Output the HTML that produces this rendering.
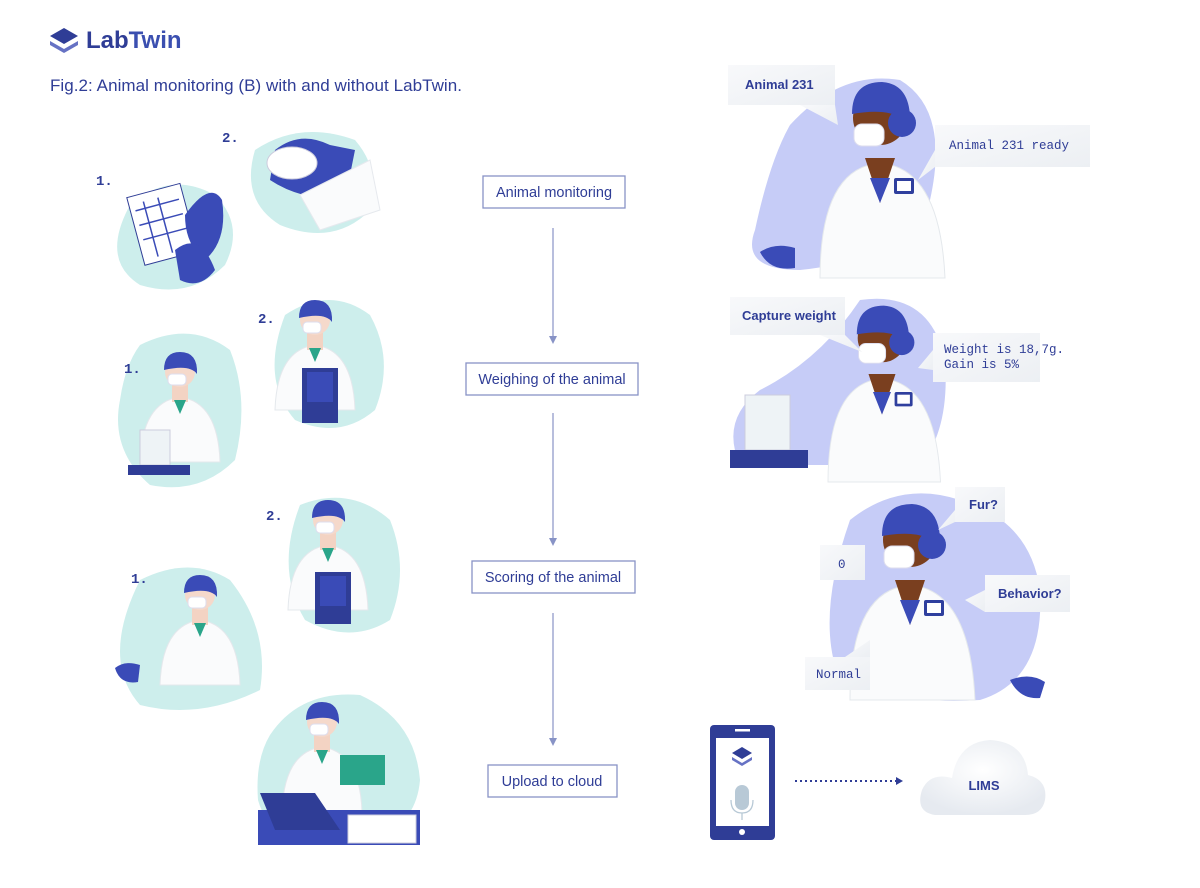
<!DOCTYPE html>
<html><head><meta charset="utf-8"><style>
body{margin:0;width:1200px;height:888px;background:#fff;overflow:hidden;font-family:"Liberation Sans",sans-serif}
svg{position:absolute;left:0;top:0}
</style></head><body>
<svg width="1200" height="888" viewBox="0 0 1200 888" xmlns="http://www.w3.org/2000/svg">
<defs>
<linearGradient id="bub" x1="0" y1="0" x2="1" y2="1"><stop offset="0" stop-color="#f8f9fb"/><stop offset="1" stop-color="#eceff3"/></linearGradient>
<radialGradient id="cl" cx="0.5" cy="0.4" r="0.6"><stop offset="0" stop-color="#ffffff"/><stop offset="1" stop-color="#e6eaf0"/></radialGradient>
<g id="pl">
<path d="M-40 90 Q-38 30 0 25 Q38 30 40 90 Z" fill="#fafbfc" stroke="#e4e8ec"/>
<rect x="-8" y="10" width="16" height="20" fill="#f3d3c3"/>
<path d="M-6 28 L0 42 L6 28Z" fill="#2aa58a"/>
<circle cx="0" cy="0" r="15" fill="#f5d9cb"/>
<path d="M-16 -2 Q-16 -20 0 -20 Q18 -20 17 2 Q10 -8 -16 -2Z" fill="#3a4bb7"/>
<rect x="-12" y="2" width="18" height="11" rx="4" fill="#fff" stroke="#dde"/>
</g>
<g id="pd">
<path d="M-60 160 Q-60 50 0 45 Q60 50 65 160 Z" fill="#fafbfc" stroke="#e4e8ec"/>
<path d="M-15 40 L0 85 L15 40Z" fill="#7a3f1f"/>
<path d="M-10 60 L0 85 L10 60Z" fill="#3a4bb7"/>
<circle cx="0" cy="0" r="27" fill="#7a3f1f"/>
<path d="M-28 -4 Q-28 -36 2 -36 Q32 -34 30 8 Q16 -12 -28 -4Z" fill="#3a4bb7"/>
<circle cx="22" cy="5" r="14" fill="#3a4bb7"/>
<rect x="-26" y="6" width="30" height="22" rx="8" fill="#fff" stroke="#dde"/>
<rect x="14" y="60" width="20" height="16" rx="2" fill="#2f3f9e"/><rect x="17" y="63" width="14" height="10" fill="#fff"/>
</g>
</defs>

<!-- header -->
<g transform="translate(50,28)">
<path d="M14 0 L28 8 L14 16 L0 8Z" fill="#2f3d96"/>
<path d="M0 13 L14 21 L28 13 L28 17 L14 25 L0 17Z" fill="#6672c4"/>
</g>
<text x="86" y="48" font-size="24" font-weight="bold" fill="#2f3d96">Lab<tspan fill="#3b4fb0">Twin</tspan></text>
<text x="50" y="91" font-size="17" fill="#2f3d96" textLength="412">Fig.2: Animal monitoring (B) with and without LabTwin.</text>

<!-- left blobs -->
<g fill="#cdeeec">
<path d="M130 205 Q170 170 215 195 Q245 225 225 265 Q190 300 140 285 Q100 260 130 205Z"/>
<path d="M255 150 Q300 120 355 140 Q385 175 365 215 Q330 245 280 225 Q240 200 255 150Z"/>
<path d="M140 345 Q190 320 230 350 Q250 400 235 460 Q200 495 150 485 Q110 450 120 400 Q125 365 140 345Z"/>
<path d="M285 315 Q330 285 370 315 Q395 360 375 410 Q340 440 295 420 Q260 380 285 315Z"/>
<path d="M140 580 Q190 555 230 580 Q270 630 260 690 Q200 720 140 705 Q100 660 140 580Z"/>
<path d="M300 505 Q350 485 390 520 Q410 570 390 620 Q350 645 305 620 Q275 570 300 505Z"/>
<path d="M270 735 Q300 690 360 695 Q415 720 420 780 Q415 840 340 845 Q270 845 258 800 Q255 760 270 735Z"/>
</g>
<g fill="#c6ccf7">
<path d="M790 125 Q840 70 900 80 Q950 110 930 200 Q900 260 800 270 Q740 270 755 230 Q770 160 790 125Z"/>
<path d="M860 300 Q930 290 945 360 Q950 430 920 465 L740 465 Q720 420 760 390 Q820 360 860 300Z"/>
<path d="M850 520 Q900 480 960 500 Q1030 520 1040 590 Q1045 680 980 700 Q900 705 840 680 Q815 620 850 520Z"/>
</g>

<!-- left illustrations -->
<g transform="rotate(-15 160 225)"><rect x="135" y="190" width="55" height="70" fill="#fff" stroke="#2f3d96"/>
<g stroke="#3a4bb7" stroke-width="1.5"><line x1="140" y1="205" x2="185" y2="205"/><line x1="140" y1="220" x2="185" y2="220"/><line x1="140" y1="235" x2="185" y2="235"/><line x1="150" y1="198" x2="150" y2="255"/><line x1="165" y1="198" x2="165" y2="255"/></g></g>
<path d="M185 215 Q210 180 222 200 Q228 240 205 260 Q185 245 185 215Z" fill="#3a4bb7"/>
<path d="M175 250 Q200 230 215 270 Q200 290 180 280Z" fill="#3a4bb7"/>
<path d="M275 150 Q300 130 330 145 L355 150 L345 200 Q300 200 270 180Z" fill="#3a4bb7"/>
<ellipse cx="292" cy="163" rx="25" ry="16" fill="#fff" stroke="#ccd"/>
<path d="M300 195 L370 160 L380 210 L320 230Z" fill="#fafbfc" stroke="#e6e9ee"/>

<use href="#pl" transform="translate(180,372)"/>
<rect x="140" y="430" width="30" height="35" fill="#eef3f6" stroke="#ccd"/>
<rect x="128" y="465" width="62" height="10" fill="#2f3d96"/>
<use href="#pl" transform="translate(315,320)"/>
<rect x="302" y="368" width="36" height="55" fill="#2f3d96"/><rect x="307" y="372" width="26" height="30" fill="#3a4bb7"/>
<use href="#pl" transform="translate(200,595)"/>
<path d="M115 668 Q125 660 140 665 L138 682 Q120 685 115 668Z" fill="#3a4bb7"/>
<use href="#pl" transform="translate(328,520)"/>
<rect x="315" y="572" width="36" height="52" fill="#2f3d96"/><rect x="320" y="576" width="26" height="30" fill="#3a4bb7"/>
<use href="#pl" transform="translate(322,722)"/>
<rect x="340" y="755" width="45" height="30" fill="#2aa58a"/>
<rect x="258" y="810" width="162" height="35" fill="#3a4bb7"/>
<path d="M260 793 L315 793 L340 830 L275 830Z" fill="#2f3d96"/>
<rect x="348" y="815" width="68" height="28" fill="#fff" stroke="#ccd"/>

<!-- number labels -->
<g font-family="Liberation Mono,monospace" font-size="14" fill="#2f3d96" font-weight="bold">
<text x="96" y="185">1.</text><text x="222" y="142">2.</text>
<text x="124" y="373">1.</text><text x="258" y="323">2.</text>
<text x="131" y="583">1.</text><text x="266" y="520">2.</text>
</g>

<!-- center flow -->
<g fill="#fff" stroke="#8893c6" stroke-width="1.3">
<rect x="483" y="176" width="142" height="32"/>
<rect x="466" y="363" width="172" height="32"/>
<rect x="472" y="561" width="163" height="32"/>
<rect x="488" y="765" width="129" height="32"/>
</g>
<g font-size="14.5" fill="#2f3d96" text-anchor="middle">
<text x="554" y="197">Animal monitoring</text>
<text x="552" y="384">Weighing of the animal</text>
<text x="553" y="582">Scoring of the animal</text>
<text x="552" y="786">Upload to cloud</text>
</g>
<g stroke="#8893c6" stroke-width="1.2" fill="#8893c6">
<line x1="553" y1="228" x2="553" y2="340"/><path d="M549 336 L553 344 L557 336Z" stroke="none"/>
<line x1="553" y1="413" x2="553" y2="542"/><path d="M549 538 L553 546 L557 538Z" stroke="none"/>
<line x1="553" y1="613" x2="553" y2="742"/><path d="M549 738 L553 746 L557 738Z" stroke="none"/>
</g>

<!-- right people -->
<use href="#pd" transform="translate(880,118)"/>
<path d="M760 252 Q775 242 795 248 L795 268 Q770 272 760 252Z" fill="#3a4bb7"/>
<use href="#pd" transform="translate(882,338) scale(0.9)"/>
<rect x="745" y="395" width="45" height="55" fill="#eef3f6" stroke="#ccd"/>
<rect x="730" y="450" width="78" height="18" fill="#2f3d96"/>
<use href="#pd" transform="translate(910,540)"/>
<path d="M1010 680 Q1030 672 1045 682 L1040 698 Q1020 700 1010 680Z" fill="#3a4bb7"/>

<!-- speech bubbles -->
<g fill="url(#bub)">
<rect x="728" y="65" width="107" height="40"/><path d="M800 105 L835 105 L838 125Z"/>
<rect x="935" y="125" width="155" height="42"/><path d="M935 150 L935 167 L918 180Z"/>
<rect x="730" y="297" width="115" height="38"/><path d="M820 335 L845 335 L862 352Z"/>
<rect x="933" y="333" width="107" height="49"/><path d="M933 350 L933 370 L918 368Z"/>
<rect x="955" y="487" width="50" height="35"/><path d="M955 510 L955 522 L938 530Z"/>
<rect x="820" y="545" width="45" height="35"/>
<rect x="985" y="575" width="85" height="37"/><path d="M985 590 L985 612 L965 600Z"/>
<rect x="805" y="657" width="65" height="33"/><path d="M845 657 L870 657 L870 640Z"/>
</g>
<g fill="#2f3d96">
<text x="745" y="89" font-size="13" font-weight="bold">Animal 231</text>
<text x="742" y="320" font-size="13" font-weight="bold">Capture weight</text>
<text x="969" y="509" font-size="13" font-weight="bold">Fur?</text>
<text x="998" y="598" font-size="13" font-weight="bold">Behavior?</text>
<g font-family="Liberation Mono,monospace" font-size="12.5">
<text x="949" y="149">Animal 231 ready</text>
<text x="944" y="353">Weight is 18,7g.</text>
<text x="944" y="368">Gain is 5%</text>
<text x="838" y="568">0</text>
<text x="816" y="678">Normal</text>
</g>
</g>

<!-- phone -->
<rect x="710" y="725" width="65" height="115" rx="4" fill="#2f3d96"/>
<rect x="716" y="738" width="53" height="88" fill="#fff"/>
<rect x="735" y="729" width="15" height="2.5" fill="#fff"/>
<circle cx="742" cy="832" r="3" fill="#fff"/>
<path d="M742 747 L752 753 L742 759 L732 753Z" fill="#2f3d96"/>
<path d="M732 757 L742 763 L752 757 L752 760 L742 766 L732 760Z" fill="#6672c4"/>
<rect x="735" y="785" width="14" height="25" rx="7" fill="#b8c9d6"/>
<path d="M731 800 Q731 813 742 813 Q753 813 753 800" fill="none" stroke="#b8c9d6" stroke-width="1.3"/>
<line x1="742" y1="813" x2="742" y2="820" stroke="#b8c9d6" stroke-width="1.3"/>
<line x1="795" y1="781" x2="897" y2="781" stroke="#2f3d96" stroke-width="2" stroke-dasharray="2 3"/>
<path d="M896 777 L903 781 L896 785Z" fill="#2f3d96"/>

<!-- cloud -->
<path d="M935 815 Q915 812 922 790 Q930 772 952 778 Q958 742 990 740 Q1025 742 1028 775 Q1048 780 1045 800 Q1042 815 1025 815Z" fill="url(#cl)"/>
<text x="984" y="790" font-size="13" font-weight="bold" fill="#2f3d96" text-anchor="middle">LIMS</text>
</svg>
</body></html>
